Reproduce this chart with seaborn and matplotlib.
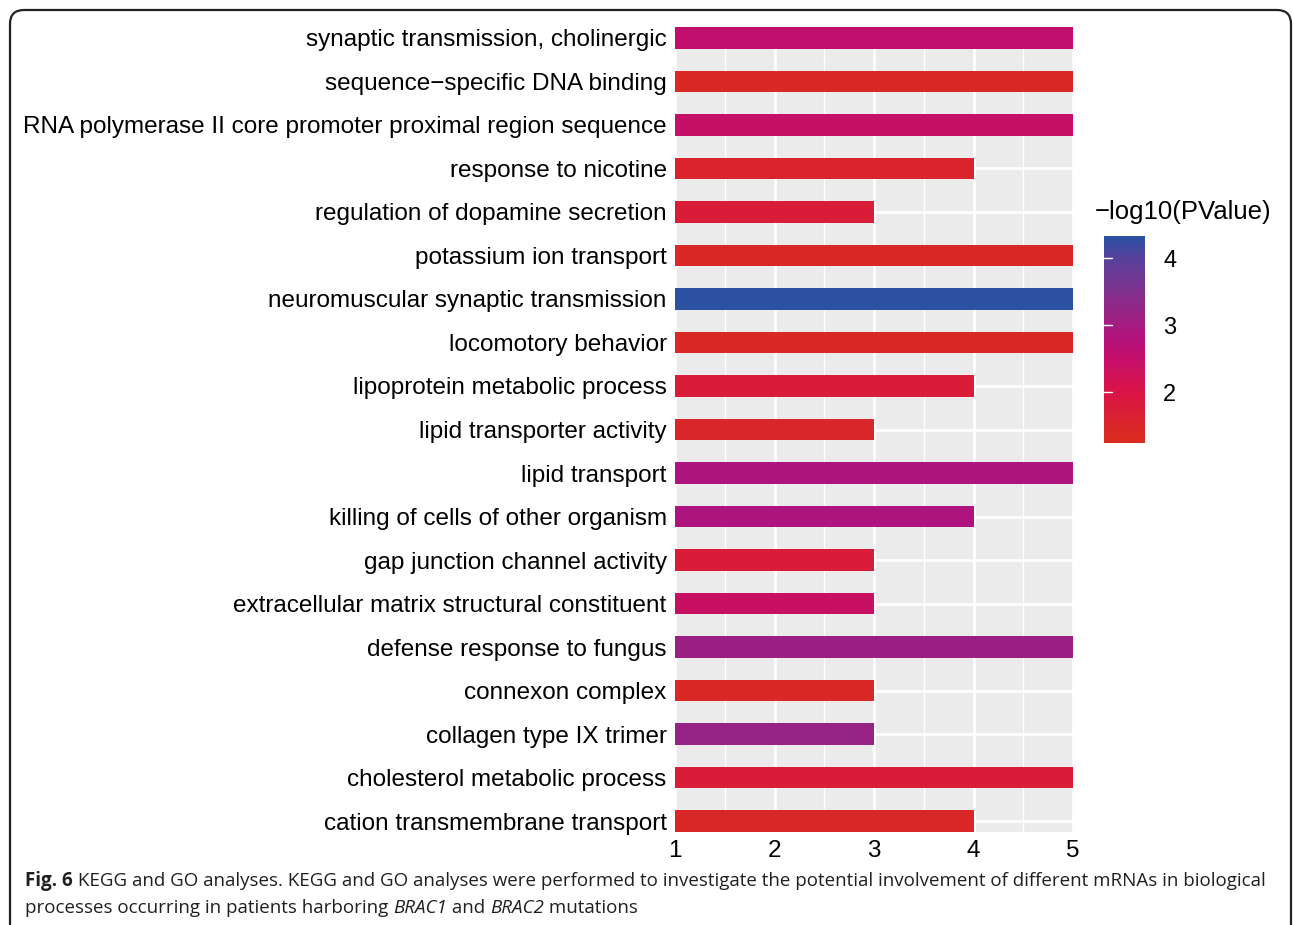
import matplotlib
matplotlib.use("Agg")
import matplotlib.pyplot as plt
import numpy as np
import pandas as pd
import seaborn as sns
from matplotlib.colors import LinearSegmentedColormap, Normalize
from matplotlib.cm import ScalarMappable
from matplotlib.patches import FancyBboxPatch
from matplotlib import font_manager

# ---- data -------------------------------------------------------------
terms = [
    "synaptic transmission, cholinergic",
    "sequence\u2212specific DNA binding",
    "RNA polymerase II core promoter proximal region sequence",
    "response to nicotine",
    "regulation of dopamine secretion",
    "potassium ion transport",
    "neuromuscular synaptic transmission",
    "locomotory behavior",
    "lipoprotein metabolic process",
    "lipid transporter activity",
    "lipid transport",
    "killing of cells of other organism",
    "gap junction channel activity",
    "extracellular matrix structural constituent",
    "defense response to fungus",
    "connexon complex",
    "collagen type IX trimer",
    "cholesterol metabolic process",
    "cation transmembrane transport",
]
gene_counts = [5, 5, 5, 4, 3, 5, 5, 5, 4, 3, 5, 4, 3, 3, 5, 3, 3, 5, 4]
neg_log10_p = [2.55, 1.35, 2.45, 1.55, 1.75, 1.40, 4.30, 1.40, 1.75, 1.50,
               2.85, 2.85, 1.75, 2.40, 3.10, 1.40, 3.20, 1.75, 1.45]
x_ticks = [1, 2, 3, 4, 5]
cbar_ticks = [2, 3, 4]
legend_title = "\u2212log10(PValue)"
caption_line1 = [("Fig. 6", "bold", "normal"),
                 (" KEGG and GO analyses. KEGG and GO analyses were performed to investigate "
                  "the potential involvement of different mRNAs in biological", "normal", "normal")]
caption_line2 = [("processes occurring in patients harboring ", "normal", "normal"),
                 ("BRAC1", "normal", "italic"),
                 (" and ", "normal", "normal"),
                 ("BRAC2", "normal", "italic"),
                 (" mutations", "normal", "normal")]

# ---- style ------------------------------------------------------------
sns.set_theme(style="darkgrid")
plt.rcParams["font.family"] = ["Liberation Sans", "DejaVu Sans"]
plt.rcParams["text.color"] = "black"

W, H = 1293, 925
fig = plt.figure(figsize=(W / 100, H / 100), dpi=100)
fig.patch.set_facecolor("white")

vmin, vmax = 1.24, 4.33
stops = [(1.24, "#DB2B1F"), (1.50, "#D9262A"), (2.00, "#DA1448"), (2.50, "#C40F6A"),
         (2.80, "#B2117C"), (3.00, "#A41C80"), (3.50, "#80308E"), (4.00, "#56419B"),
         (4.33, "#2A52A3")]
cmap = LinearSegmentedColormap.from_list(
    "pval", [((v - vmin) / (vmax - vmin), c) for v, c in stops])
norm = Normalize(vmin=vmin, vmax=vmax)

df = pd.DataFrame({"term": terms, "count": gene_counts, "p": neg_log10_p})
palette = {t: cmap(norm(p)) for t, p in zip(terms, neg_log10_p)}

# ---- bar panel ----------------------------------------------------------
ax = fig.add_axes([675 / W, 1 - 832 / H, 398 / W, 805 / H])
sns.barplot(data=df, x="count", y="term", hue="term", palette=palette, order=terms,
            hue_order=terms, legend=False, orient="h", width=0.5, saturation=1,
            linewidth=0, ax=ax)
ax.set_xlim(1, 5)
ax.set_ylim(len(terms) - 0.75, -0.25)
ax.set_xticks(x_ticks)
ax.set_xticks([1.5, 2.5, 3.5, 4.5], minor=True)
ax.set_facecolor("#EBEBEB")
ax.set_axisbelow(True)
ax.grid(True, which="major", color="white", linewidth=1.9)
ax.grid(True, which="minor", axis="x", color="white", linewidth=1.0)
for s in ax.spines.values():
    s.set_visible(False)
ax.set_xlabel("")
ax.set_ylabel("")
ax.tick_params(axis="both", which="major", length=4, width=1.4, color="#333333",
               labelsize=17.5, labelcolor="black", pad=2)
ax.tick_params(axis="both", which="minor", length=0)

# ---- colour bar ---------------------------------------------------------
cax = fig.add_axes([1104 / W, 1 - 443 / H, 41 / W, 207 / H])
cb = fig.colorbar(ScalarMappable(norm=norm, cmap=cmap), cax=cax, ticks=cbar_ticks)
cb.outline.set_visible(False)
cax.tick_params(length=0, labelsize=17, pad=13, labelcolor="black")
for t in cbar_ticks:
    cax.plot([0, 0.2], [t, t], color="white", lw=1.0, transform=cax.get_yaxis_transform())
fig.text(1095 / W, 1 - 212 / H, legend_title, fontsize=18.5, va="center", ha="left",
         color="black")

# ---- caption ------------------------------------------------------------
cap_family = []
available = {f.name for f in font_manager.fontManager.ttflist}
for name in ["Liberation Sans Narrow", "DejaVu Sans Condensed", "Open Sans"]:
    if name in available:
        cap_family.append(name)
cap_family.append("DejaVu Sans")

renderer = fig.canvas.get_renderer()


def line_width(pieces, size):
    total = 0
    for txt, weight, style in pieces:
        t = fig.text(0, 0, txt, fontsize=size, fontweight=weight, fontstyle=style,
                     family=cap_family)
        total += t.get_window_extent(renderer).width
        t.remove()
    return total


base = 12.0
cap_size = base * 1235 / line_width(caption_line1, base)


def draw_line(pieces, y_px):
    x = 25
    for txt, weight, style in pieces:
        t = fig.text(x / W, 1 - y_px / H, txt, fontsize=cap_size, fontweight=weight,
                     fontstyle=style, family=cap_family, color="#231F20", va="center")
        x += t.get_window_extent(renderer).width


draw_line(caption_line1, 881)
draw_line(caption_line2, 908)

# ---- rounded frame ------------------------------------------------------
fax = fig.add_axes([0, 0, 1, 1])
fax.set_xlim(0, W)
fax.set_ylim(H, 0)
fax.axis("off")
fax.add_patch(FancyBboxPatch((10, 10), 1281, 960, boxstyle="round,pad=0,rounding_size=14",
                             fill=False, lw=1.6, ec="#222222"))

fig.savefig("out.png", dpi=100)
